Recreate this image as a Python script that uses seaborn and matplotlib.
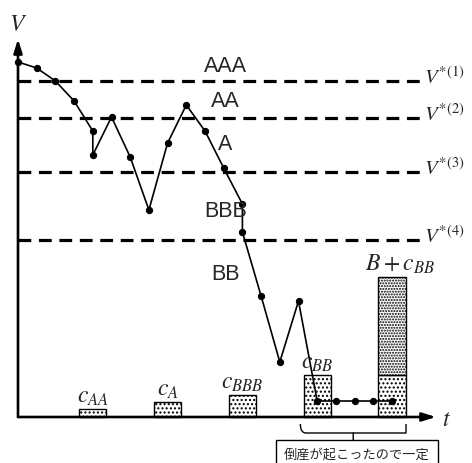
import numpy as np
import matplotlib
matplotlib.use("Agg")
import matplotlib.pyplot as plt
import seaborn as sns
import pandas as pd
from matplotlib.path import Path
from matplotlib.patches import PathPatch

# --- data ---
t_path = [0, 1, 2, 3, 4, 4, 5, 6, 7, 8, 9, 10, 11, 12, 12, 13, 14, 15, 16, 17, 18, 19, 20]
v_path = [3.55, 3.49, 3.36, 3.16, 2.86, 2.62, 3.00, 2.60, 2.07, 2.74, 3.12, 2.86, 2.49,
          2.13, 1.85, 1.21, 0.55, 1.16, 0.16, 0.16, 0.16, 0.16, 0.16]

thresholds = [3.36, 2.99, 2.45, 1.77]
threshold_labels = [r"$V^{*(1)}$", r"$V^{*(2)}$", r"$V^{*(3)}$", r"$V^{*(4)}$"]

ratings = ["AAA", "AA", "A", "BBB", "BB"]
rating_v = [3.51, 3.16, 2.73, 2.06, 1.43]

cost_t = [4, 8, 12, 16, 20]
cost_h = [0.08, 0.15, 0.22, 0.42, 0.42]
cost_labels = [r"$c_{AA}$", r"$c_{A}$", r"$c_{BBB}$", r"$c_{BB}$", r"$B+c_{BB}$"]
default_t = 20
default_B = 0.98

note = "倒産が起こったので一定"

# --- style ---
sns.set_style("white")
plt.rcParams["font.family"] = ["Liberation Sans", "Noto Sans CJK JP", "DejaVu Sans"]
plt.rcParams["mathtext.fontset"] = "stix"
plt.rcParams["hatch.linewidth"] = 1.0

fig = plt.figure(figsize=(4.72, 4.64), dpi=100)
ax = fig.add_axes([0, 0, 1, 1])
dx = 18.7
ax.set_xlim(-18 / dx, (472 - 18) / dx)
ax.set_ylim(-0.46, 4.18)
ax.axis("off")

# axes with arrows
x_end = (436 - 18) / dx
ax.annotate("", xy=(x_end, 0), xytext=(0, 0),
            arrowprops=dict(arrowstyle="-|>,head_length=0.8,head_width=0.25", lw=1.9, color="black",
                            shrinkA=0, shrinkB=0))
ax.annotate("", xy=(0, 3.78), xytext=(0, 0),
            arrowprops=dict(arrowstyle="-|>,head_length=0.8,head_width=0.25", lw=1.9, color="black",
                            shrinkA=0, shrinkB=0))
ax.text(0, 3.93, r"$V$", fontsize=17, ha="center", va="center")
ax.text(x_end + 0.55, -0.02, r"$t$", fontsize=17, ha="center", va="center")

# threshold lines
line_end = (420 - 18) / dx
for v, lab in zip(thresholds, threshold_labels):
    ax.plot([0, line_end], [v, v], color="black", lw=2.3, dashes=(4.0, 2.4), solid_capstyle="butt")
    ax.text(line_end + 0.2, v + 0.05, lab, fontsize=15, ha="left", va="center")

# cost bars
ax.bar(cost_t, cost_h, width=1.45, color="white", edgecolor="black", hatch="....", lw=1.0, zorder=2)
ax.bar([default_t], [default_B], bottom=[cost_h[-1]], width=1.45, color="white",
       edgecolor="black", hatch="......", lw=1.0, zorder=2)
label_h = list(cost_h)
label_h[-1] = cost_h[-1] + default_B
for t, h, lab in zip(cost_t, label_h, cost_labels):
    ax.text(t + (0.45 if lab.startswith("$B") else 0), h + 0.02, lab, fontsize=17,
            ha="center", va="bottom")

# value path
df = pd.DataFrame({"t": t_path, "V": v_path})
sns.lineplot(data=df, x="t", y="V", sort=False, estimator=None, color="black", lw=1.2,
             marker="o", markersize=4.5, markeredgecolor="black", ax=ax, zorder=4)

# rating labels
for lab, v in zip(ratings, rating_v):
    ax.text(11.1, v, lab, fontsize=15.5, ha="center", va="center", zorder=5)

# curly brace under the default period
x0 = cost_t[3] - 0.9
x1 = default_t + 0.75
xm = (x0 + x1) / 2
y_top, y_mid, y_tip = -0.07, -0.16, -0.24
verts = [(x0, y_top), (x0, y_mid), (x0 + 0.3, y_mid), (x0 + 0.6, y_mid),
         (xm - 0.6, y_mid), (xm - 0.3, y_mid), (xm, y_mid), (xm, y_tip),
         (xm, y_mid), (xm + 0.3, y_mid), (xm + 0.6, y_mid),
         (x1 - 0.6, y_mid), (x1 - 0.3, y_mid), (x1, y_mid), (x1, y_top)]
codes = [Path.MOVETO, Path.CURVE3, Path.CURVE3, Path.LINETO,
         Path.LINETO, Path.CURVE3, Path.CURVE3, Path.LINETO,
         Path.MOVETO, Path.CURVE3, Path.CURVE3, Path.LINETO,
         Path.CURVE3, Path.CURVE3, Path.LINETO]
ax.add_patch(PathPatch(Path(verts, codes), fill=False, lw=1.0, color="black"))

ax.text(xm + 0.2, -0.37, note, fontsize=9.5, ha="center", va="center",
        family=["Noto Sans CJK JP", "DejaVu Sans"],
        bbox=dict(boxstyle="square,pad=0.6", fc="white", ec="black", lw=1.0))

fig.savefig("out.png", dpi=100)
